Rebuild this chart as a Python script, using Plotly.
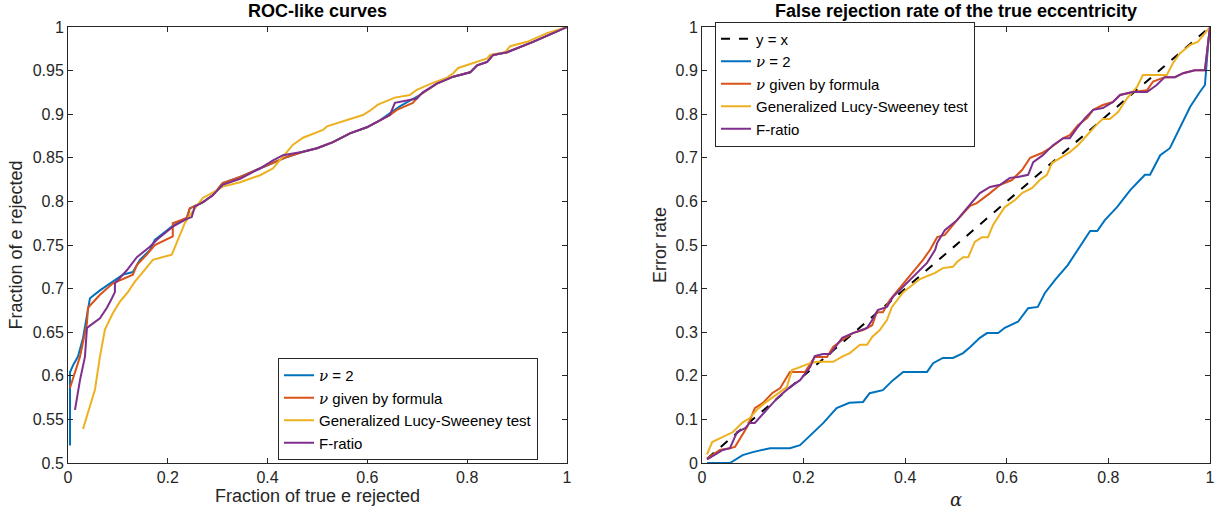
import plotly.graph_objects as go

# ---------------- Left panel: ROC-like curves ----------------
roc_nu2_x = [0.004, 0.004, 0.01, 0.02, 0.03, 0.044, 0.064, 0.09, 0.11, 0.13, 0.144, 0.164, 0.174, 0.21, 0.238, 0.244, 0.27, 0.29, 0.31, 0.345, 0.385, 0.411, 0.439, 0.471, 0.499, 0.531, 0.565, 0.599, 0.625, 0.645, 0.665, 0.705, 0.739, 0.772, 0.806, 0.82, 0.84, 0.852, 0.88, 0.932, 1.0]
roc_nu2_y = [0.52, 0.604, 0.612, 0.622, 0.643, 0.689, 0.698, 0.708, 0.716, 0.719, 0.733, 0.744, 0.756, 0.772, 0.781, 0.792, 0.799, 0.807, 0.821, 0.828, 0.838, 0.844, 0.851, 0.857, 0.861, 0.868, 0.878, 0.885, 0.893, 0.901, 0.909, 0.922, 0.935, 0.943, 0.948, 0.956, 0.96, 0.968, 0.971, 0.983, 1.0]

roc_form_x = [0.004, 0.024, 0.038, 0.04, 0.064, 0.09, 0.13, 0.138, 0.158, 0.174, 0.21, 0.21, 0.238, 0.244, 0.27, 0.29, 0.31, 0.345, 0.385, 0.411, 0.439, 0.471, 0.499, 0.531, 0.565, 0.599, 0.625, 0.645, 0.659, 0.691, 0.705, 0.739, 0.772, 0.806, 0.82, 0.84, 0.852, 0.88, 0.932, 1.0]
roc_form_y = [0.586, 0.622, 0.66, 0.678, 0.693, 0.706, 0.716, 0.727, 0.739, 0.75, 0.76, 0.775, 0.781, 0.792, 0.799, 0.807, 0.821, 0.828, 0.838, 0.844, 0.851, 0.857, 0.861, 0.868, 0.878, 0.885, 0.893, 0.899, 0.905, 0.913, 0.922, 0.935, 0.943, 0.948, 0.956, 0.96, 0.968, 0.971, 0.983, 1.0]

roc_ls_x = [0.03, 0.054, 0.064, 0.074, 0.09, 0.104, 0.12, 0.134, 0.15, 0.17, 0.208, 0.22, 0.234, 0.244, 0.27, 0.29, 0.31, 0.345, 0.385, 0.411, 0.431, 0.451, 0.471, 0.511, 0.519, 0.559, 0.591, 0.605, 0.621, 0.655, 0.685, 0.699, 0.731, 0.76, 0.772, 0.782, 0.826, 0.84, 0.846, 0.876, 0.886, 0.92, 0.96, 1.0]
roc_ls_y = [0.539, 0.584, 0.622, 0.653, 0.672, 0.685, 0.696, 0.708, 0.719, 0.733, 0.739, 0.755, 0.775, 0.784, 0.804, 0.81, 0.817, 0.822, 0.83, 0.838, 0.851, 0.865, 0.873, 0.882, 0.886, 0.893, 0.899, 0.904, 0.911, 0.919, 0.922, 0.928, 0.936, 0.942, 0.947, 0.953, 0.962, 0.964, 0.968, 0.971, 0.978, 0.983, 0.993, 1.0]

roc_f_x = [0.014, 0.024, 0.034, 0.038, 0.064, 0.078, 0.088, 0.094, 0.094, 0.118, 0.138, 0.164, 0.178, 0.21, 0.238, 0.248, 0.254, 0.27, 0.29, 0.31, 0.345, 0.385, 0.411, 0.431, 0.471, 0.499, 0.531, 0.565, 0.599, 0.625, 0.645, 0.655, 0.699, 0.711, 0.739, 0.772, 0.806, 0.82, 0.84, 0.852, 0.88, 0.932, 1.0]
roc_f_y = [0.561, 0.595, 0.622, 0.655, 0.666, 0.678, 0.689, 0.696, 0.706, 0.721, 0.736, 0.748, 0.756, 0.771, 0.78, 0.782, 0.794, 0.799, 0.807, 0.819, 0.826, 0.838, 0.847, 0.853, 0.857, 0.861, 0.868, 0.878, 0.885, 0.893, 0.899, 0.913, 0.918, 0.925, 0.935, 0.943, 0.948, 0.956, 0.96, 0.968, 0.971, 0.983, 1.0]

# ---------------- Right panel: false rejection rate ----------------
diag_x = [0.01, 1.0]
diag_y = [0.01, 1.0]

fr_nu2_x = [0.01, 0.055, 0.08, 0.10, 0.134, 0.173, 0.193, 0.207, 0.219, 0.239, 0.265, 0.29, 0.317, 0.33, 0.356, 0.376, 0.396, 0.443, 0.455, 0.474, 0.494, 0.514, 0.528, 0.547, 0.561, 0.583, 0.596, 0.622, 0.642, 0.661, 0.675, 0.695, 0.72, 0.744, 0.764, 0.778, 0.793, 0.817, 0.843, 0.862, 0.872, 0.882, 0.902, 0.921, 0.941, 0.961, 0.98, 0.99, 0.997, 1.0]
fr_nu2_y = [0.0, 0.0, 0.018, 0.025, 0.034, 0.034, 0.041, 0.057, 0.071, 0.092, 0.126, 0.138, 0.14, 0.16, 0.167, 0.19, 0.209, 0.209, 0.229, 0.241, 0.241, 0.252, 0.266, 0.287, 0.298, 0.298, 0.31, 0.324, 0.355, 0.358, 0.39, 0.42, 0.454, 0.495, 0.532, 0.532, 0.557, 0.587, 0.626, 0.649, 0.661, 0.661, 0.706, 0.722, 0.771, 0.817, 0.851, 0.867, 0.97, 1.0]

fr_form_x = [0.01, 0.035, 0.055, 0.065, 0.089, 0.104, 0.12, 0.138, 0.154, 0.173, 0.203, 0.222, 0.246, 0.258, 0.276, 0.297, 0.317, 0.335, 0.344, 0.356, 0.37, 0.394, 0.415, 0.435, 0.449, 0.463, 0.478, 0.502, 0.528, 0.541, 0.567, 0.587, 0.61, 0.63, 0.646, 0.669, 0.685, 0.711, 0.724, 0.74, 0.758, 0.77, 0.789, 0.809, 0.823, 0.848, 0.876, 0.888, 0.911, 0.931, 0.947, 0.97, 0.99, 1.0]
fr_form_y = [0.01, 0.03, 0.034, 0.037, 0.083, 0.126, 0.138, 0.16, 0.172, 0.209, 0.209, 0.243, 0.243, 0.266, 0.282, 0.298, 0.305, 0.316, 0.346, 0.346, 0.374, 0.408, 0.436, 0.466, 0.489, 0.518, 0.523, 0.557, 0.59, 0.596, 0.619, 0.638, 0.649, 0.672, 0.7, 0.711, 0.722, 0.745, 0.752, 0.775, 0.791, 0.81, 0.821, 0.828, 0.844, 0.851, 0.855, 0.875, 0.885, 0.885, 0.894, 0.901, 0.901, 1.0]

fr_ls_x = [0.01, 0.02, 0.061, 0.079, 0.094, 0.108, 0.124, 0.138, 0.154, 0.167, 0.177, 0.193, 0.213, 0.226, 0.258, 0.278, 0.291, 0.311, 0.325, 0.335, 0.35, 0.364, 0.374, 0.396, 0.429, 0.459, 0.474, 0.494, 0.502, 0.514, 0.524, 0.537, 0.551, 0.563, 0.573, 0.596, 0.616, 0.63, 0.65, 0.665, 0.679, 0.689, 0.705, 0.724, 0.74, 0.758, 0.78, 0.789, 0.803, 0.819, 0.837, 0.856, 0.868, 0.915, 0.927, 0.941, 0.961, 0.976, 1.0]
fr_ls_y = [0.02, 0.048, 0.071, 0.092, 0.103, 0.122, 0.138, 0.149, 0.163, 0.174, 0.213, 0.22, 0.229, 0.232, 0.232, 0.245, 0.252, 0.271, 0.271, 0.289, 0.305, 0.328, 0.358, 0.392, 0.422, 0.436, 0.447, 0.45, 0.461, 0.472, 0.472, 0.507, 0.518, 0.518, 0.546, 0.587, 0.603, 0.619, 0.631, 0.649, 0.661, 0.688, 0.7, 0.713, 0.729, 0.752, 0.78, 0.789, 0.789, 0.805, 0.837, 0.862, 0.89, 0.89, 0.917, 0.94, 0.959, 0.966, 1.0]

fr_f_x = [0.01, 0.03, 0.041, 0.055, 0.069, 0.085, 0.094, 0.104, 0.128, 0.15, 0.173, 0.193, 0.213, 0.222, 0.238, 0.252, 0.276, 0.297, 0.325, 0.335, 0.346, 0.364, 0.376, 0.396, 0.423, 0.443, 0.459, 0.463, 0.478, 0.502, 0.522, 0.547, 0.567, 0.587, 0.606, 0.622, 0.642, 0.652, 0.671, 0.691, 0.711, 0.724, 0.738, 0.754, 0.77, 0.789, 0.809, 0.823, 0.848, 0.876, 0.895, 0.911, 0.931, 0.947, 0.97, 0.99, 1.0]
fr_f_y = [0.008, 0.023, 0.03, 0.034, 0.071, 0.08, 0.092, 0.092, 0.122, 0.151, 0.174, 0.19, 0.22, 0.245, 0.25, 0.25, 0.287, 0.298, 0.31, 0.328, 0.351, 0.358, 0.381, 0.404, 0.436, 0.459, 0.489, 0.505, 0.534, 0.557, 0.585, 0.619, 0.633, 0.638, 0.654, 0.656, 0.661, 0.69, 0.706, 0.729, 0.745, 0.745, 0.768, 0.791, 0.81, 0.814, 0.828, 0.844, 0.851, 0.851, 0.867, 0.885, 0.885, 0.894, 0.901, 0.901, 1.0]

# labels
NU = "<span style='font-family:DejaVu Serif, serif'><i>ν</i></span>"
names = [NU + " = 2", NU + " given by formula", "Generalized Lucy-Sweeney test", "F-ratio"]
left_xticks = [0, 0.2, 0.4, 0.6, 0.8, 1]
left_xticklabels = ["0", "0.2", "0.4", "0.6", "0.8", "1"]
left_yticks = [0.5, 0.55, 0.6, 0.65, 0.7, 0.75, 0.8, 0.85, 0.9, 0.95, 1]
left_yticklabels = ["0.5", "0.55", "0.6", "0.65", "0.7", "0.75", "0.8", "0.85", "0.9", "0.95", "1"]
right_yticks = [0, 0.1, 0.2, 0.3, 0.4, 0.5, 0.6, 0.7, 0.8, 0.9, 1]
right_yticklabels = ["0", "0.1", "0.2", "0.3", "0.4", "0.5", "0.6", "0.7", "0.8", "0.9", "1"]

colors = ["#0072BD", "#D95319", "#EDB120", "#7E2F8E"]
W, H = 1218, 515
FONT = "Liberation Sans, Arial, sans-serif"
AX = "#262626"

fig = go.Figure()

left_series = [(roc_nu2_x, roc_nu2_y), (roc_form_x, roc_form_y), (roc_ls_x, roc_ls_y), (roc_f_x, roc_f_y)]
for (xs, ys), nm, c in zip(left_series, names, colors):
    fig.add_trace(go.Scatter(x=xs, y=ys, mode="lines", name=nm, line=dict(color=c, width=2),
                             xaxis="x", yaxis="y", legend="legend"))

fig.add_trace(go.Scatter(x=diag_x, y=diag_y, mode="lines", name="y = x",
                         line=dict(color="black", width=2, dash="dash"),
                         xaxis="x2", yaxis="y2", legend="legend2"))
right_series = [(fr_nu2_x, fr_nu2_y), (fr_form_x, fr_form_y), (fr_ls_x, fr_ls_y), (fr_f_x, fr_f_y)]
for (xs, ys), nm, c in zip(right_series, names, colors):
    fig.add_trace(go.Scatter(x=xs, y=ys, mode="lines", name=nm, line=dict(color=c, width=2),
                             xaxis="x2", yaxis="y2", legend="legend2"))

def px(v, total):
    return v / total

ydom = [1 - 463 / H, 1 - 27 / H]
axis_common = dict(showline=True, linecolor=AX, linewidth=1, mirror="ticks", ticks="inside",
                   ticklen=5, tickcolor=AX, showgrid=False, zeroline=False, automargin=False,
                   tickfont=dict(family=FONT, size=16, color=AX))

legend_common = dict(bgcolor="white", bordercolor=AX, borderwidth=1,
                     font=dict(family=FONT, size=15, color="black"), itemwidth=30,
                     tracegroupgap=0, traceorder="normal", entrywidth=250, entrywidthmode="pixels")

fig.update_layout(
    width=W, height=H,
    margin=dict(l=0, r=0, t=0, b=0, autoexpand=False),
    paper_bgcolor="white", plot_bgcolor="white",
    font=dict(family=FONT, color=AX),
    xaxis=dict(domain=[px(68, W), px(567, W)], range=[0, 1], tickvals=left_xticks, ticktext=left_xticklabels,
               anchor="y", title=dict(text="Fraction of true e rejected", font=dict(size=18, color=AX), standoff=2),
               **axis_common),
    yaxis=dict(domain=ydom, range=[0.5, 1], tickvals=left_yticks, ticktext=left_yticklabels,
               anchor="x", title=dict(text="Fraction of e rejected", font=dict(size=18, color=AX), standoff=5),
               **axis_common),
    xaxis2=dict(domain=[px(702, W), px(1210, W)], range=[0, 1], tickvals=left_xticks, ticktext=left_xticklabels,
                anchor="y2", title=dict(text="<i>α</i>", font=dict(size=18, color=AX, family="DejaVu Serif, serif"), standoff=8),
                **axis_common),
    yaxis2=dict(domain=ydom, range=[0, 1], tickvals=right_yticks, ticktext=right_yticklabels,
                anchor="x2", title=dict(text="Error rate", font=dict(size=18, color=AX), standoff=4),
                **axis_common),
    legend=dict(x=px(278, W), y=1 - 409 / H, xanchor="left", yanchor="middle", **legend_common),
    legend2=dict(x=px(715, W), y=1 - 84 / H, xanchor="left", yanchor="middle", **legend_common),
    showlegend=True,
    annotations=[
        dict(text="<b>ROC-like curves</b>", x=(68 + 567) / 2 / W, y=1 - 11 / H, xref="paper", yref="paper",
             showarrow=False, font=dict(family=FONT, size=18, color="black"), xanchor="center", yanchor="middle"),
        dict(text="<b>False rejection rate of the true eccentricity</b>", x=(702 + 1210) / 2 / W, y=1 - 11 / H,
             xref="paper", yref="paper", showarrow=False, font=dict(family=FONT, size=18, color="black"),
             xanchor="center", yanchor="middle"),
    ],
)

fig.write_html("out.html", config={"displayModeBar": False},
               post_script="document.body.style.margin='0px';")
